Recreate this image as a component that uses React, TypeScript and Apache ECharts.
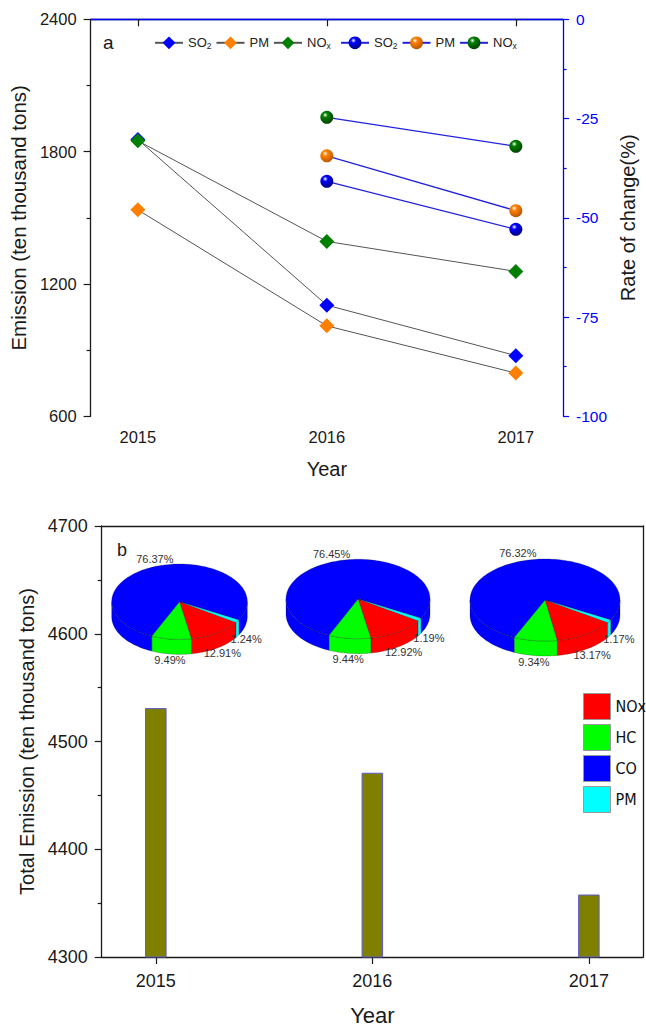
import React, { useEffect, useRef } from "react";
import * as echarts from "echarts";

// ---------- data ----------
const years = [2015, 2016, 2017];
const so2Emission = [1855, 1104, 875];
const pmEmission = [1536, 1010, 796];
const noxEmission = [1849, 1393, 1257];

const rateYears = [2016, 2017];
const so2Rate = [-40.8, -52.9];
const pmRate = [-34.4, -48.2];
const noxRate = [-24.7, -32.0];

const totalEmission = [4531, 4471, 4358];

const pieComponents = ["NOx", "HC", "CO", "PM"];
const noxShare = [12.91, 12.92, 13.17];
const hcShare = [9.49, 9.44, 9.34];
const coShare = [76.37, 76.45, 76.32];
const pmShare = [1.24, 1.19, 1.17];

const topTicks = [2015, 2016, 2017];

// ---------- layout / style ----------
const FONT = "Liberation Sans, Arial, sans-serif";
const pieLayout = [
  { cx: 179.5, cy: 601.7, rx: 67.8, ry: 37.7 },
  { cx: 358, cy: 599, rx: 72, ry: 39.7 },
  { cx: 545, cy: 600, rx: 75, ry: 41 },
];
const pieDepth = 15;
const pieStartDeg = 29;
const sliceOrder = ["PM", "NOx", "HC", "CO"];
const shares: Record<string, number[]> = { NOx: noxShare, HC: hcShare, CO: coShare, PM: pmShare };
const pieColors: Record<string, string> = { NOx: "#ff0000", HC: "#00ff00", CO: "#0000ff", PM: "#00ffff" };

const ball = (c: string, dark: string) =>
  new echarts.graphic.RadialGradient(0.38, 0.32, 0.7, [
    { offset: 0, color: "#ffffff" },
    { offset: 0.28, color: c },
    { offset: 1, color: dark },
  ]);

const legendLabels: Record<string, string> = {
  "SO2-e": "{a|SO}{s|2}",
  "PM-e": "{a|PM}",
  "NOx-e": "{a|NO}{s|x}",
  "SO2-r": "{a|SO}{s|2}",
  "PM-r": "{a|PM}",
  "NOx-r": "{a|NO}{s|x}",
};

function makePieRender(comp: string) {
  return (params: any, api: any) => {
    const p = params.dataIndex;
    const L = pieLayout[p];
    const idx = sliceOrder.indexOf(comp);
    let before = 0;
    for (let k = 0; k < idx; k++) before += shares[sliceOrder[k]][p];
    const val = api.value(1);
    const a1 = pieStartDeg + before * 3.6;
    const a2 = a1 + val * 3.6;
    const color = pieColors[comp];
    const pt = (deg: number, dy = 0) => [
      L.cx + L.rx * Math.cos((deg * Math.PI) / 180),
      L.cy + L.ry * Math.sin((deg * Math.PI) / 180) + dy,
    ];
    const stroke = "rgba(0,0,0,0.45)";
    const children: any[] = [];
    for (const [lo, hi] of [
      [0, 180],
      [360, 540],
    ]) {
      const s = Math.max(a1, lo);
      const e = Math.min(a2, hi);
      if (e > s) {
        const n = Math.max(2, Math.ceil((e - s) / 2));
        const pts: number[][] = [];
        for (let i = 0; i <= n; i++) pts.push(pt(s + ((e - s) * i) / n));
        for (let i = n; i >= 0; i--) pts.push(pt(s + ((e - s) * i) / n, pieDepth));
        children.push({
          type: "polygon",
          shape: { points: pts },
          style: { fill: color, stroke, lineWidth: 0.5 },
        });
      }
    }
    const n = Math.max(2, Math.ceil((a2 - a1) / 2));
    const top: number[][] = [[L.cx, L.cy]];
    for (let i = 0; i <= n; i++) top.push(pt(a1 + ((a2 - a1) * i) / n));
    children.push({
      type: "polygon",
      shape: { points: top },
      style: { fill: color, stroke, lineWidth: 0.5 },
    });
    const mid = (((a1 + a2) / 2) * Math.PI) / 180;
    const sn = Math.sin(mid);
    children.push({
      type: "text",
      style: {
        text: val.toFixed(2) + "%",
        x: L.cx + 1.15 * L.rx * Math.cos(mid),
        y: L.cy + 1.15 * L.ry * sn + (sn > 0 ? pieDepth : -2),
        align: "center",
        verticalAlign: "middle",
        fontSize: 11,
        fill: "#333",
        fontFamily: FONT,
      },
    });
    return { type: "group", children };
  };
}

const plain = (v: number) => String(v);

export default function App() {
  const ref = useRef<HTMLDivElement>(null);
  useEffect(() => {
    if (!ref.current) return;
    const chart = echarts.init(ref.current, undefined, { renderer: "svg" });
    const black = "#1a1a1a";
    const blue = "#0000ff";
    const frameAxis = (gridIndex: number, position: string, color: string, min: number, max: number) => ({
      type: "value",
      gridIndex,
      position,
      min,
      max,
      axisLine: { show: true, lineStyle: { color, width: 1.3 } },
      axisTick: { show: false },
      axisLabel: { show: false },
      splitLine: { show: false },
    });
    const topRich = {
      a: { fontSize: 13, lineHeight: 16, color: "#222" },
      s: { fontSize: 8.5, lineHeight: 9, verticalAlign: "bottom", color: "#222" },
    };
    const option: any = {
      animation: false,
      textStyle: { fontFamily: FONT },
      grid: [
        { left: 85.7, top: 19.3, width: 492.6, height: 397 },
        { left: 101.7, top: 526, width: 541.3, height: 435 },
      ],
      legend: [
        {
          left: 149,
          top: 31.3,
          itemWidth: 28,
          itemHeight: 16,
          itemGap: 4,
          selectedMode: false,
          data: ["SO2-e", "PM-e", "NOx-e"],
          formatter: (n: string) => legendLabels[n],
          textStyle: { color: "#222", rich: topRich },
        },
        {
          left: 335,
          top: 31.3,
          itemWidth: 28,
          itemHeight: 16,
          itemGap: 4,
          selectedMode: false,
          data: ["SO2-r", "PM-r", "NOx-r"],
          formatter: (n: string) => legendLabels[n],
          textStyle: { color: "#222", rich: topRich },
        },
        {
          orient: "vertical",
          left: 578,
          top: 688,
          itemWidth: 27,
          itemHeight: 26,
          itemGap: 4,
          icon: "rect",
          selectedMode: false,
          itemStyle: { borderColor: "#999", borderWidth: 1 },
          textStyle: { fontSize: 16, color: "#111", fontFamily: "DejaVu Sans Condensed, Liberation Sans, Arial" },
          data: pieComponents.map((c) => ({ name: c, itemStyle: { color: pieColors[c] } })),
        },
      ],
      xAxis: [
        {
          type: "value",
          gridIndex: 0,
          position: "bottom",
          min: 2014.75,
          max: 2017.25,
          axisLine: { show: true, lineStyle: { color: black, width: 1.3 } },
          axisTick: { show: true, customValues: topTicks, length: 7, lineStyle: { color: black, width: 1.2 } },
          axisLabel: { customValues: topTicks, fontSize: 16.5, color: "#1a1a1a", margin: 12, formatter: plain },
          splitLine: { show: false },
          name: "Year",
          nameLocation: "middle",
          nameGap: 43,
          nameTextStyle: { fontSize: 20, color: "#1a1a1a" },
        },
        frameAxis(0, "top", blue, 2014.75, 2017.25),
        {
          type: "value",
          gridIndex: 1,
          position: "bottom",
          min: 2014.75,
          max: 2017.25,
          axisLine: { show: true, lineStyle: { color: black, width: 1.3 } },
          axisTick: { show: true, customValues: topTicks, length: 7, lineStyle: { color: black, width: 1.2 } },
          axisLabel: { customValues: topTicks, fontSize: 18, color: "#1a1a1a", margin: 15, formatter: plain },
          splitLine: { show: false },
          name: "Year",
          nameLocation: "middle",
          nameGap: 47,
          nameTextStyle: { fontSize: 22, color: "#1a1a1a" },
        },
        frameAxis(1, "top", black, 2014.75, 2017.25),
      ],
      yAxis: [
        {
          type: "value",
          gridIndex: 0,
          position: "left",
          min: 600,
          max: 2400,
          interval: 600,
          axisLine: { show: true, lineStyle: { color: black, width: 1.3 } },
          axisTick: { show: true, length: 7, lineStyle: { color: black, width: 1.2 } },
          minorTick: { show: true, splitNumber: 2, length: 4, lineStyle: { color: black, width: 1.2 } },
          axisLabel: { fontSize: 16.5, color: "#1a1a1a", margin: 14, formatter: plain },
          splitLine: { show: false },
          name: "Emission (ten thousand tons)",
          nameLocation: "middle",
          nameGap: 49,
          nameTextStyle: { fontSize: 20.5, color: "#1a1a1a" },
        },
        {
          type: "value",
          gridIndex: 0,
          position: "right",
          min: -100,
          max: 0,
          interval: 25,
          axisLine: { show: true, lineStyle: { color: blue, width: 1.3 } },
          axisTick: { show: true, length: 6, lineStyle: { color: blue, width: 1.2 } },
          minorTick: { show: true, splitNumber: 2, length: 3.5, lineStyle: { color: blue, width: 1.2 } },
          axisLabel: { fontSize: 15.5, color: blue, margin: 13, formatter: plain },
          splitLine: { show: false },
          name: "Rate of change(%)",
          nameLocation: "middle",
          nameGap: 48,
          nameTextStyle: { fontSize: 20, color: "#1a1a1a" },
        },
        {
          type: "value",
          gridIndex: 1,
          position: "left",
          min: 4300,
          max: 4700,
          interval: 100,
          axisLine: { show: true, lineStyle: { color: black, width: 1.3 } },
          axisTick: { show: true, length: 7, lineStyle: { color: black, width: 1.2 } },
          minorTick: { show: true, splitNumber: 2, length: 4, lineStyle: { color: black, width: 1.2 } },
          axisLabel: { fontSize: 18, color: "#1a1a1a", margin: 14, formatter: plain },
          splitLine: { show: false },
          name: "Total Emission (ten thousand tons)",
          nameLocation: "middle",
          nameGap: 63,
          nameTextStyle: { fontSize: 20, color: "#1a1a1a" },
        },
        frameAxis(1, "right", black, 4300, 4700),
      ],
      graphic: [
        { type: "text", left: 103, top: 33, style: { text: "a", fontSize: 19, fill: "#1a1a1a", fontFamily: FONT } },
        { type: "text", left: 117, top: 541, style: { text: "b", fontSize: 18, fill: "#1a1a1a", fontFamily: FONT } },
      ],
      series: [
        {
          name: "SO2-e",
          type: "line",
          xAxisIndex: 0,
          yAxisIndex: 0,
          data: years.map((y, i) => [y, so2Emission[i]]),
          symbol: "diamond",
          symbolSize: 15,
          lineStyle: { color: "#555", width: 1 },
          itemStyle: { color: "#0000ff" },
          z: 3,
        },
        {
          name: "PM-e",
          type: "line",
          xAxisIndex: 0,
          yAxisIndex: 0,
          data: years.map((y, i) => [y, pmEmission[i]]),
          symbol: "diamond",
          symbolSize: 15,
          lineStyle: { color: "#555", width: 1 },
          itemStyle: { color: "#ff8000" },
          z: 3,
        },
        {
          name: "NOx-e",
          type: "line",
          xAxisIndex: 0,
          yAxisIndex: 0,
          data: years.map((y, i) => [y, noxEmission[i]]),
          symbol: "diamond",
          symbolSize: 15,
          lineStyle: { color: "#555", width: 1 },
          itemStyle: { color: "#007f00" },
          z: 3,
        },
        {
          name: "SO2-r",
          type: "line",
          xAxisIndex: 0,
          yAxisIndex: 1,
          data: rateYears.map((y, i) => [y, so2Rate[i]]),
          symbol: "circle",
          symbolSize: 13,
          lineStyle: { color: "#2222dd", width: 1.3 },
          itemStyle: { color: ball("#0000ff", "#00007a") },
          z: 3,
        },
        {
          name: "PM-r",
          type: "line",
          xAxisIndex: 0,
          yAxisIndex: 1,
          data: rateYears.map((y, i) => [y, pmRate[i]]),
          symbol: "circle",
          symbolSize: 13,
          lineStyle: { color: "#2222dd", width: 1.3 },
          itemStyle: { color: ball("#ff8000", "#b85500") },
          z: 3,
        },
        {
          name: "NOx-r",
          type: "line",
          xAxisIndex: 0,
          yAxisIndex: 1,
          data: rateYears.map((y, i) => [y, noxRate[i]]),
          symbol: "circle",
          symbolSize: 13,
          lineStyle: { color: "#2222dd", width: 1.3 },
          itemStyle: { color: ball("#008000", "#004200") },
          z: 3,
        },
        {
          name: "Total",
          type: "bar",
          xAxisIndex: 2,
          yAxisIndex: 2,
          data: years.map((y, i) => [y, totalEmission[i]]),
          barWidth: 21.5,
          itemStyle: { color: "#808000", borderColor: "#5a5acf", borderWidth: 1 },
        },
        ...pieComponents.map((c) => ({
          name: c,
          type: "custom",
          coordinateSystem: "none",
          silent: true,
          z: 5,
          itemStyle: { color: pieColors[c] },
          data: shares[c].map((v, i) => [i, v]),
          renderItem: makePieRender(c),
        })),
      ],
    };
    chart.setOption(option);
    return () => chart.dispose();
  }, []);
  return <div ref={ref} style={{ position: "absolute", left: 0, top: 0, width: 646, height: 1027 }} />;
}
